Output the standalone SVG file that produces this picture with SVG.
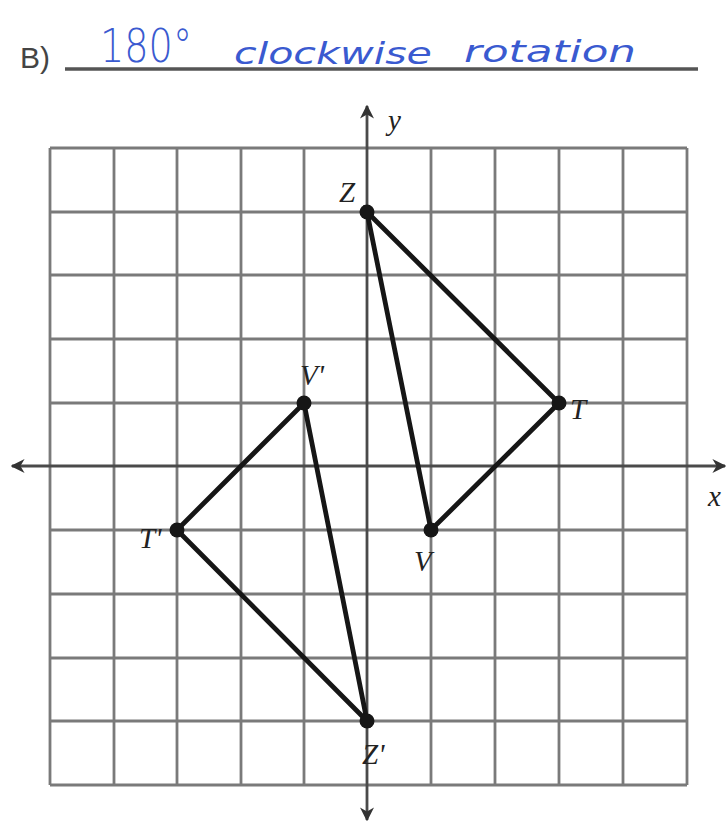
<svg xmlns="http://www.w3.org/2000/svg" width="727" height="822" viewBox="0 0 727 822">
<style>
.grid{stroke:#7a7a7a;stroke-width:2.8;fill:none}
.axis{stroke:#4a4a4a;stroke-width:2.8;fill:none}
.edge{stroke:#161616;stroke-width:4.8;fill:none;stroke-linecap:round}
.pt{fill:#161616}
.lbl{font-family:"Liberation Serif",serif;font-style:italic;font-size:29px;fill:#222}
.hand{font-family:"DejaVu Sans","Liberation Sans",sans-serif;fill:#3a5ad0}
</style>
<defs>
<marker id="ah2" viewBox="0 0 10 10" refX="9" refY="5" markerWidth="14" markerHeight="14" orient="auto-start-reverse" markerUnits="userSpaceOnUse">
<path d="M0,0 L10,5 L0,10 L3,5 z" fill="#333"/>
</marker>
</defs>
<rect width="727" height="822" fill="#ffffff"/>
<g id="title">
<text x="20" y="68" font-family="Liberation Sans,sans-serif" font-size="30" fill="#444">B)</text>
<line x1="65" y1="69" x2="698" y2="69" stroke="#555" stroke-width="3.5"/>
<text class="hand" x="100" y="62" font-size="46" font-weight="300" textLength="92" lengthAdjust="spacingAndGlyphs">180°</text>
<text class="hand" x="234" y="64" font-size="30" font-style="italic" textLength="198" lengthAdjust="spacingAndGlyphs">clockwise</text>
<text class="hand" x="464" y="62" font-size="30" font-style="italic" textLength="172" lengthAdjust="spacingAndGlyphs">rotation</text>
</g>
<g id="grid" class="grid">
<path d="M50,148V785 M114,148V785 M177,148V785 M241,148V785 M304,148V785 M431,148V785 M495,148V785 M559,148V785 M623,148V785 M687,148V785"/>
<path d="M50,148H687 M50,212H687 M50,275H687 M50,339H687 M50,403H687 M50,530H687 M50,594H687 M50,658H687 M50,721H687 M50,785H687"/>
</g>
<g id="axes">
<line class="axis" x1="12" y1="466" x2="725" y2="466" marker-start="url(#ah2)" marker-end="url(#ah2)"/>
<line class="axis" x1="367" y1="106" x2="367" y2="820" marker-start="url(#ah2)" marker-end="url(#ah2)"/>
<text class="lbl" x="388" y="130" font-size="27">y</text>
<text class="lbl" x="708" y="506" font-size="27">x</text>
</g>
<g id="connectors">
<path class="edge" d="M367,212 L559,403 L431,530 Z"/>
<path class="edge" d="M367,721 L177,530 L304,403 Z"/>
</g>
<g id="node-Z"><circle class="pt" cx="367" cy="212" r="7.5"/><text class="lbl" x="339" y="202">Z</text></g>
<g id="node-T"><circle class="pt" cx="559" cy="403" r="7.5"/><text class="lbl" x="570" y="419">T</text></g>
<g id="node-V"><circle class="pt" cx="431" cy="530" r="7.5"/><text class="lbl" x="414" y="571">V</text></g>
<g id="node-Vp"><circle class="pt" cx="304" cy="403" r="7.5"/><text class="lbl" x="300" y="385">V'</text></g>
<g id="node-Tp"><circle class="pt" cx="177" cy="530" r="7.5"/><text class="lbl" x="139" y="548">T'</text></g>
<g id="node-Zp"><circle class="pt" cx="367" cy="721" r="7.5"/><text class="lbl" x="362" y="764">Z'</text></g>
</svg>
